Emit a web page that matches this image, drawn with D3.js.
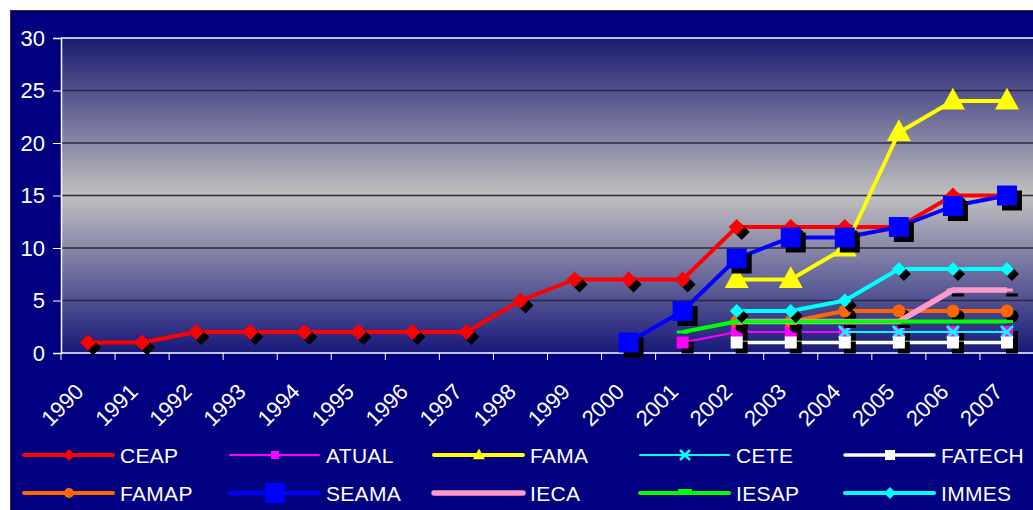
<!DOCTYPE html>
<html>
<head>
<meta charset="utf-8">
<script src="https://cdn.jsdelivr.net/npm/d3@7"></script>
<style>
  body { margin: 0; background: #fff; }
  svg { display: block; font-family: Arial, "Liberation Sans", sans-serif; }
</style>
</head>
<body>
<div class="chart"></div>
<script>
// data
const years = ['1990','1991','1992','1993','1994','1995','1996','1997','1998',
               '1999','2000','2001','2002','2003','2004','2005','2006','2007'];
const yTicks = [0, 5, 10, 15, 20, 25, 30];

const _ = null;
const ceap   = [1, 1, 2, 2, 2, 2, 2, 2, 5, 7, 7, 7, 12, 12, 12, 12, 15, 15];
const atual  = [_, _, _, _, _, _, _, _, _, _, _, 1, 2, 2, 2, 2, 2, 2];
const fama   = [_, _, _, _, _, _, _, _, _, _, _, _, 7, 7, 10, 21, 24, 24];
const cete   = [_, _, _, _, _, _, _, _, _, _, _, _, _, _, 2, 2, 2, 2];
const fatech = [_, _, _, _, _, _, _, _, _, _, _, _, 1, 1, 1, 1, 1, 1];
const famap  = [_, _, _, _, _, _, _, _, _, _, _, _, 3, 3, 4, 4, 4, 4];
const seama  = [_, _, _, _, _, _, _, _, _, _, 1, 4, 9, 11, 11, 12, 14, 15];
const ieca   = [_, _, _, _, _, _, _, _, _, _, _, _, 3, 3, 3, 3, 6, 6];
const iesap  = [_, _, _, _, _, _, _, _, _, _, _, 2, 3, 3, 3, 3, 3, 3];
const immes  = [_, _, _, _, _, _, _, _, _, _, _, _, 4, 4, 5, 8, 8, 8];

const names = ['CEAP','ATUAL','FAMA','CETE','FATECH','FAMAP','SEAMA','IECA','IESAP','IMMES'];
const values = [ceap, atual, fama, cete, fatech, famap, seama, ieca, iesap, immes];

// look of each series
const styles = {
  CEAP:   {color: '#ff0000', width: 4,   marker: 'diamond',  size: 8,  legSize: 6,  shadow: true},
  ATUAL:  {color: '#ff00ff', width: 2,   marker: 'square',   size: 6,  legSize: 4,  shadow: true},
  FAMA:   {color: '#ffff00', width: 4,   marker: 'triangle', size: 12, legSize: 6,  shadow: false},
  CETE:   {color: '#00ffff', width: 2,   marker: 'x',        size: 6,  legSize: 5,  shadow: false},
  FATECH: {color: '#ffffff', width: 3.5, marker: 'square',   size: 6,  legSize: 5,  shadow: true},
  FAMAP:  {color: '#ff6600', width: 4,   marker: 'circle',   size: 6.5,legSize: 5,  shadow: true},
  SEAMA:  {color: '#0000ff', width: 4,   marker: 'square',   size: 10, legSize: 10, shadow: true},
  IECA:   {color: '#ff99cc', width: 5.5, marker: 'dash',     size: 6,  legSize: 6,  shadow: true},
  IESAP:  {color: '#00ff00', width: 4,   marker: 'dash',     size: 6,  legSize: 7,  shadow: false},
  IMMES:  {color: '#00ffff', width: 4,   marker: 'diamond',  size: 7,  legSize: 6,  shadow: true}
};

const W = 1033, H = 510;
const svg = d3.select('.chart').append('svg')
  .attr('width', W).attr('height', H);

// outer chart area
svg.append('rect')
  .attr('x', 10.5).attr('y', 10.5)
  .attr('width', W).attr('height', H)
  .attr('fill', '#000080')
  .attr('stroke', '#333').attr('stroke-width', 1);

const x = d3.scaleBand().domain(years).range([61, 1034]);
const y = d3.scaleLinear().domain([0, 30]).range([353, 38]);

// plot background gradient
const defs = svg.append('defs');
const grad = defs.append('linearGradient')
  .attr('id', 'bg').attr('x1', 0).attr('y1', 0).attr('x2', 0).attr('y2', 1);
grad.append('stop').attr('offset', '0%').attr('stop-color', '#1a1a72');
grad.append('stop').attr('offset', '50%').attr('stop-color', '#c0c0c0');
grad.append('stop').attr('offset', '100%').attr('stop-color', '#18187a');

svg.append('rect')
  .attr('x', 61).attr('y', y(30))
  .attr('width', 1034 - 61).attr('height', y(0) - y(30))
  .attr('fill', 'url(#bg)');

// gridlines
svg.append('g')
  .selectAll('line')
  .data(yTicks.filter(d => d > 0 && d < 30))
  .enter()
    .append('line')
    .attr('x1', 61).attr('x2', 1034)
    .attr('y1', d => y(d)).attr('y2', d => y(d))
    .attr('stroke', '#2a2a3a').attr('stroke-width', 1.5);

// top border of the plot
svg.append('line')
  .attr('x1', 61).attr('x2', 1034)
  .attr('y1', y(30)).attr('y2', y(30))
  .attr('stroke', '#fff').attr('stroke-width', 1.5);

// y axis
const yAxis = svg.append('g')
  .attr('transform', 'translate(61,0)')
  .call(d3.axisLeft(y).tickValues(yTicks).tickSize(8).tickPadding(8));
yAxis.select('.domain').attr('stroke', '#fff').attr('stroke-width', 1.5);
yAxis.selectAll('line').attr('stroke', '#fff');
yAxis.selectAll('text').attr('fill', '#fff').attr('font-size', 22);

// x axis, ticks on category boundaries
const xAxis = svg.append('g')
  .attr('transform', `translate(0,${y(0)})`);
xAxis.append('line')
  .attr('x1', 61).attr('x2', 1034)
  .attr('stroke', '#fff').attr('stroke-width', 1.5);
xAxis.selectAll('.tk')
  .data(years)
  .enter()
    .append('line')
    .attr('class', 'tk')
    .attr('x1', d => x(d)).attr('x2', d => x(d))
    .attr('y1', 0).attr('y2', 7)
    .attr('stroke', '#fff');
xAxis.selectAll('text')
  .data(years)
  .enter()
    .append('text')
    .attr('transform', d => `translate(${x(d) + x.bandwidth() / 2 - 3},${40}) rotate(-45)`)
    .attr('text-anchor', 'end')
    .attr('fill', '#fff')
    .attr('font-size', 22)
    .text(d => d);

// marker shapes
function markerPath(type, s) {
  if (type === 'diamond') return `M0,${-s}L${s},0L0,${s}L${-s},0Z`;
  if (type === 'square') return `M${-s},${-s}H${s}V${s}H${-s}Z`;
  if (type === 'triangle') return `M0,${-s * 1.1}L${s},${s * 0.7}L${-s},${s * 0.7}Z`;
  if (type === 'dash') return `M${-s},-1.5H${s}V1.5H${-s}Z`;
  return null;
}

function drawMarker(g, st, size, shadow) {
  const col = shadow ? '#000' : st.color;
  if (st.marker === 'circle') {
    g.append('circle').attr('r', size).attr('fill', col);
  } else if (st.marker === 'x') {
    g.append('path')
      .attr('d', `M${-size},${-size}L${size},${size}M${size},${-size}L${-size},${size}`)
      .attr('stroke', col).attr('stroke-width', 2.5).attr('fill', 'none');
  } else {
    g.append('path').attr('d', markerPath(st.marker, size)).attr('fill', col);
  }
}

const line = d3.line()
  .defined(d => d.v !== null)
  .x(d => x(d.year) + x.bandwidth() / 2)
  .y(d => y(d.v));

const plot = svg.append('g');

names.forEach((name, i) => {
  const st = styles[name];
  const pts = years.map((yr, j) => ({year: yr, v: values[i][j]}));
  const g = plot.append('g');

  g.append('path')
    .datum(pts)
    .attr('d', line)
    .attr('fill', 'none')
    .attr('stroke', st.color)
    .attr('stroke-width', st.width)
    .attr('stroke-linejoin', 'round');

  const valid = pts.filter(d => d.v !== null);
  if (st.shadow) {
    valid.forEach(d => {
      const m = g.append('g')
        .attr('transform', `translate(${x(d.year) + x.bandwidth() / 2 + 5},${y(d.v) + 5})`);
      drawMarker(m, st, st.size, true);
    });
  }
  valid.forEach(d => {
    const m = g.append('g')
      .attr('transform', `translate(${x(d.year) + x.bandwidth() / 2},${y(d.v)})`);
    drawMarker(m, st, st.size, false);
  });
});

// legend, two rows of five
const legX = [24, 230, 434, 640, 845];
const legY = [455, 493];
names.forEach((name, i) => {
  const st = styles[name];
  const lx = legX[i % 5], ly = legY[Math.floor(i / 5)];
  const g = svg.append('g');
  g.append('line')
    .attr('x1', lx).attr('x2', lx + 89)
    .attr('y1', ly).attr('y2', ly)
    .attr('stroke', st.color)
    .attr('stroke-width', st.width)
    .attr('stroke-linecap', 'round');
  const m = g.append('g').attr('transform', `translate(${lx + 45},${ly})`);
  if (name === 'IESAP') {
    m.append('rect').attr('x', -7).attr('y', -4).attr('width', 14).attr('height', 4).attr('fill', st.color);
  } else if (name !== 'IECA') {
    drawMarker(m, st, st.legSize, false);
  }
  g.append('text')
    .attr('x', lx + 96).attr('y', ly)
    .attr('dy', '0.36em')
    .attr('fill', '#fff')
    .attr('font-size', 21)
    .attr('letter-spacing', 0.3)
    .text(name);
});
</script>
</body>
</html>
